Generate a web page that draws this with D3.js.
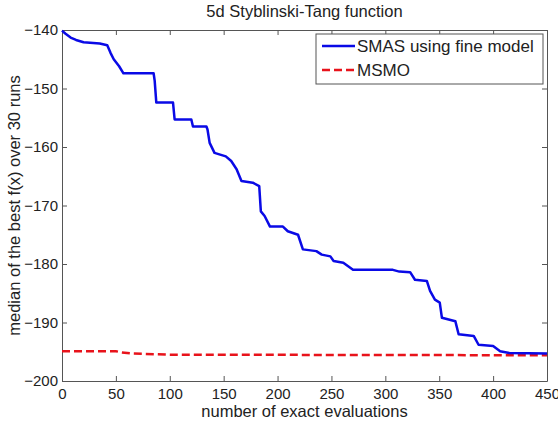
<!DOCTYPE html>
<html>
<head>
<meta charset="utf-8">
<script src="https://cdn.jsdelivr.net/npm/d3@7"></script>
<style>
  body { margin: 0; background: #fff; }
  text { font-family: "Liberation Sans", Arial, sans-serif; fill: #222; }
</style>
</head>
<body>
<div id="chart"></div>
<script>
// SMAS using fine model (blue staircase)
const smasX = [0, 3, 8, 13, 20, 35, 42, 45, 48, 53, 57, 85, 86, 87.5, 103, 104.5, 120, 121.5, 134, 135,
    137, 141.5, 152, 157, 162, 166.5, 177, 183, 184.5, 188, 193, 205, 209.5, 219, 223.5, 236, 241, 249,
    252, 261, 270, 307, 313, 323, 327.5, 338.5, 341.5, 346, 350.5, 352.5, 365, 368, 382, 386.5, 400,
    406.5, 415, 450];
const smasY = [-140.1, -140.6, -141.3, -141.7, -142.1, -142.3, -142.6, -143.9, -145, -146.2, -147.4, -147.4,
    -148.7, -152.4, -152.4, -155.3, -155.3, -156.5, -156.5, -157, -159.3, -161, -161.6, -162.4, -163.8,
    -165.8, -166.1, -166.7, -171, -171.8, -173.6, -173.6, -174.4, -175, -177.5, -177.8, -178.4, -178.7,
    -179.5, -179.8, -181, -181, -181.3, -181.4, -182.7, -182.9, -184.6, -186.1, -186.6, -189.2, -189.8,
    -192, -192.3, -193.8, -194, -194.9, -195.2, -195.3];

// MSMO (red dashed)
const msmoX = [0, 50, 55, 65, 100, 450];
const msmoY = [-194.9, -194.9, -195.1, -195.3, -195.5, -195.6];

const xTicks = [0, 50, 100, 150, 200, 250, 300, 350, 400, 450];
const yTicks = [-200, -190, -180, -170, -160, -150, -140];

const seriesNames = ["SMAS using fine model", "MSMO"];

const W = 558, H = 428;
const margin = { top: 30, right: 11, bottom: 47, left: 62 };
const width = W - margin.left - margin.right;
const height = H - margin.top - margin.bottom;

const svg = d3.select("#chart").append("svg")
    .attr("width", W)
    .attr("height", H);

const g = svg.append("g").attr("transform", `translate(${margin.left},${margin.top})`);

const x = d3.scaleLinear().domain([0, 450]).range([0, width]);
const y = d3.scaleLinear().domain([-200, -140]).range([height, 0]);

// axes with inward ticks, box on all sides
const axisColor = "#555";
function styleAxis(sel) {
    sel.select(".domain").attr("stroke", axisColor);
    sel.selectAll(".tick line").attr("stroke", axisColor);
    sel.selectAll(".tick text").style("font-size", "15px").attr("fill", "#222");
}

g.append("g").attr("transform", `translate(0,${height})`)
    .call(d3.axisBottom(x).tickValues(xTicks).tickSizeInner(-5).tickSizeOuter(0).tickPadding(7))
    .call(styleAxis);
g.append("g")
    .call(d3.axisLeft(y).tickValues(yTicks).tickSizeInner(-5).tickSizeOuter(0).tickPadding(4))
    .call(styleAxis);
g.append("g")
    .call(d3.axisTop(x).tickValues(xTicks).tickSizeInner(-5).tickSizeOuter(0).tickFormat(""))
    .call(styleAxis);
g.append("g").attr("transform", `translate(${width},0)`)
    .call(d3.axisRight(y).tickValues(yTicks).tickSizeInner(-5).tickSizeOuter(0).tickFormat(""))
    .call(styleAxis);

const line = d3.line().x(d => x(d[0])).y(d => y(d[1]));

g.append("path")
    .datum(msmoX.map((v, i) => [v, msmoY[i]]))
    .attr("fill", "none")
    .attr("stroke", "#e8131b")
    .attr("stroke-width", 2.5)
    .attr("stroke-dasharray", "8,4")
    .attr("d", line);

g.append("path")
    .datum(smasX.map((v, i) => [v, smasY[i]]))
    .attr("fill", "none")
    .attr("stroke", "#0a0ae6")
    .attr("stroke-width", 2.5)
    .attr("stroke-linejoin", "round")
    .attr("d", line);

// title and axis labels
svg.append("text")
    .attr("x", margin.left + width / 2)
    .attr("y", 17)
    .attr("text-anchor", "middle")
    .style("font-size", "16.5px")
    .text("5d Styblinski-Tang function");

svg.append("text")
    .attr("x", margin.left + width / 2)
    .attr("y", 417)
    .attr("text-anchor", "middle")
    .style("font-size", "16.5px")
    .text("number of exact evaluations");

svg.append("text")
    .attr("transform", `translate(20,${margin.top + height / 2}) rotate(-90)`)
    .attr("text-anchor", "middle")
    .style("font-size", "16.5px")
    .text("median of the best f(x) over 30 runs");

// legend
const legend = svg.append("g").attr("transform", "translate(316,34)");
legend.append("rect")
    .attr("width", 227)
    .attr("height", 50)
    .attr("fill", "#fff")
    .attr("stroke", axisColor);
const legendStyles = [
    { color: "#0a0ae6", dash: null },
    { color: "#e8131b", dash: "8,4" }
];
seriesNames.forEach((name, i) => {
    const row = legend.append("g").attr("transform", `translate(0,${12 + i * 24})`);
    row.append("line")
        .attr("x1", 6).attr("x2", 39)
        .attr("stroke", legendStyles[i].color)
        .attr("stroke-width", 2.5)
        .attr("stroke-dasharray", legendStyles[i].dash);
    row.append("text")
        .attr("x", 41)
        .attr("dy", "0.36em")
        .style("font-size", "17px")
        .text(name);
});
</script>
</body>
</html>
